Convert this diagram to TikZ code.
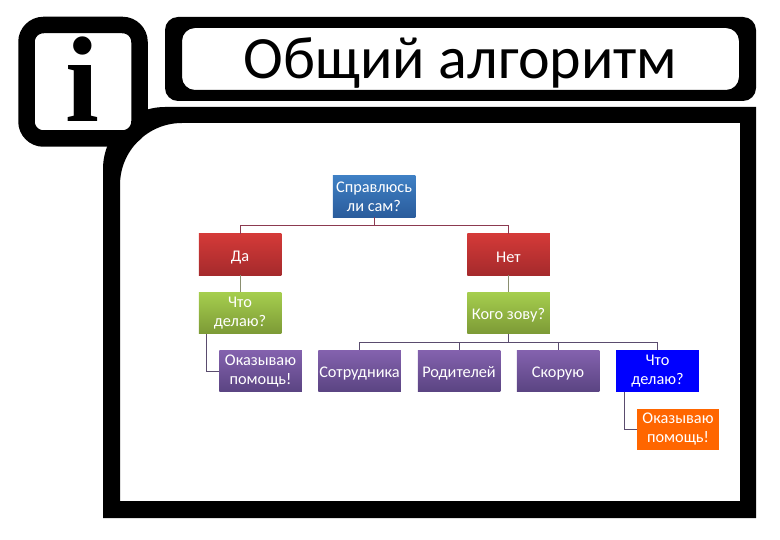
\documentclass[tikz,border=0pt]{standalone}
\usepackage{fontspec}
\setmainfont{Carlito}
\newfontfamily\iconfont{Liberation Serif}
\tikzset{
  box/.style={minimum width=82.5pt, minimum height=41.5pt, inner sep=0pt, text=white, align=center, font=\fontsize{16.3}{19}\selectfont, execute at begin node={\rule{0pt}{16pt}}},
  rootbox/.style={box, top color=blue1, bottom color=blue2},
  redbox/.style={box, top color=red1, bottom color=red2},
  greenbox/.style={box, top color=green1, bottom color=green2},
  purplebox/.style={box, top color=purple1, bottom color=purple2},
  link/.style={line width=0.9pt}
}
\definecolor{blue1}{HTML}{3F80C4}
\definecolor{blue2}{HTML}{2A5C9C}
\definecolor{red1}{HTML}{D43A38}
\definecolor{red2}{HTML}{A52A2C}
\definecolor{green1}{HTML}{A6CE4E}
\definecolor{green2}{HTML}{7C9A36}
\definecolor{purple1}{HTML}{8462AE}
\definecolor{purple2}{HTML}{5A4482}
\definecolor{linkred}{HTML}{8C3A50}
\definecolor{linkgreen}{HTML}{8A8F70}
\definecolor{linkpurple}{HTML}{5A4C6E}
\begin{document}
\begin{tikzpicture}[x=1pt, y=-1pt]
\useasboundingbox (0,0) rectangle (780,540);

% frames
\fill[even odd rule] (103,518) [rounded corners=62pt] -- (103,107) [sharp corners] -- (756,107) -- (756,518) -- cycle
  (120,501) [rounded corners=62pt] -- (120,123) [sharp corners] -- (740,123) -- (740,501) -- cycle;
\fill[even odd rule, rounded corners=13pt] (165,17) rectangle (756,101) (182,28) rectangle (739,90);
\draw[line width=16.5pt, rounded corners=17pt, fill=white] (26.5,25) rectangle (139.5,138.5);
\node (icon) at (82,79) {\iconfont\bfseries\fontsize{122}{122}\selectfont i};
\node (title) at (460.5,63) {\fontsize{60}{60}\selectfont Общий алгоритм};

% boxes
\node[rootbox] (root) at (374,196.5) {Справлюсь\\ли сам?};
\node[redbox] (yes) at (240,254.5) {Да};
\node[redbox] (no) at (508.5,254.5) {Нет};
\node[greenbox] (whatA) at (240,313) {Что\\делаю?};
\node[greenbox] (whom) at (508.5,313) {Кого зову?};
\node[purplebox] (helpA) at (260.5,371) {Оказываю\\помощь!};
\foreach \x/\name/\txt in {359.5/staff/Сотрудника, 459/parents/Родителей, 558/ambulance/Скорую}
  \node[purplebox] (\name) at (\x,371) {\txt};
\node[box, fill=blue] (whatB) at (657.5,371) {Что\\делаю?};
\node[box, fill=orange!80!red] (helpB) at (678,429.5) {Оказываю\\помощь!};

% connectors
\draw[link, linkred] (root.south) -- ++(0,8) -| (yes.north);
\draw[link, linkred] (root.south) -- ++(0,8) -| (no.north);
\draw[link, linkgreen] (yes) -- (whatA);
\draw[link, linkgreen] (no) -- (whom);
\draw[link, linkpurple] ([xshift=8pt]whatA.south west) |- (helpA.west);
\foreach \name in {staff, parents, ambulance, whatB}
  \draw[link, linkpurple] (whom.south) -- ++(0,8.5) -| (\name.north);
\draw[link, linkpurple] ([xshift=8pt]whatB.south west) |- (helpB.west);

\end{tikzpicture}
\end{document}
